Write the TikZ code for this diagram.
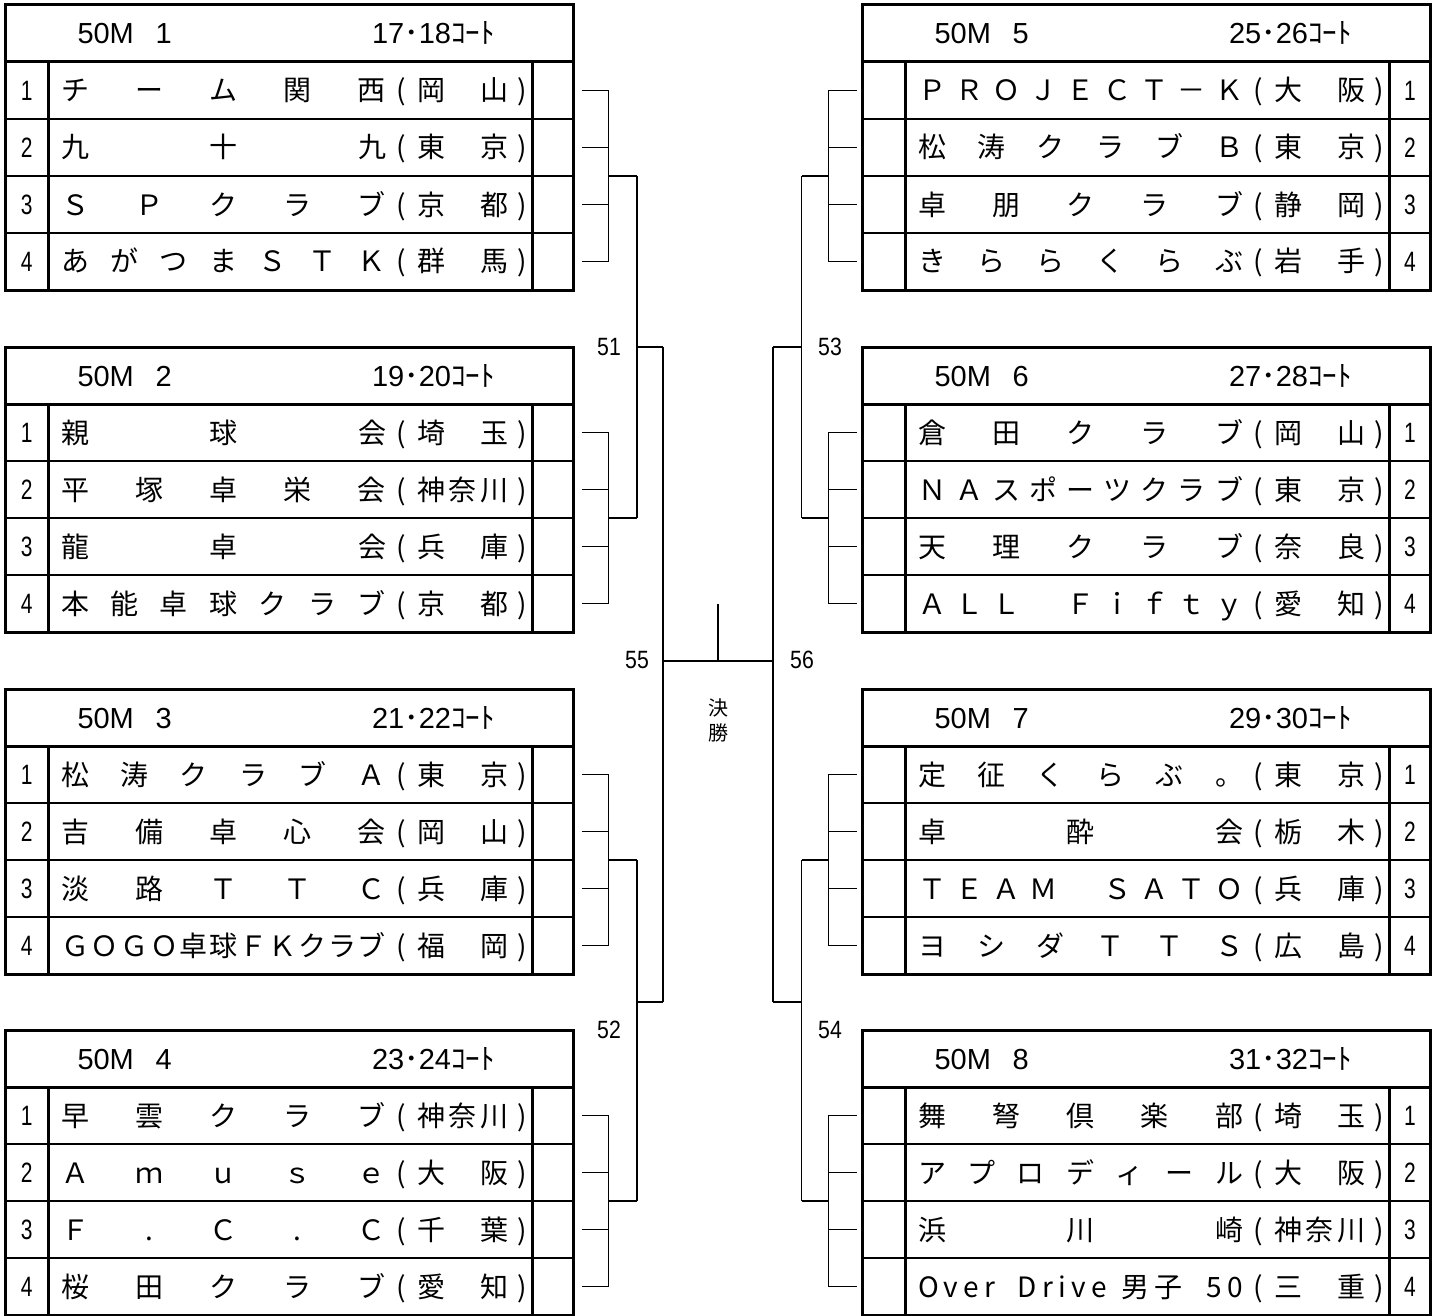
\documentclass[tikz,border=0pt]{standalone}
\usepackage{fontspec}
\usepackage{graphicx}
\setmainfont{Liberation Sans}
\newfontfamily\cjk{Noto Sans CJK JP}
\newfontfamily\lat{Liberation Sans}
\newcommand\namefont{\cjk\fontsize{28}{28}\selectfont}
\newcommand\numfont{\lat\fontsize{28}{28}\selectfont}
\newcommand\hdfont{\lat\fontsize{29}{29}\selectfont}
\newcommand\hdkfont{\cjk\fontsize{29}{29}\selectfont}
\newcommand\lblfont{\lat\fontsize{25}{25}\selectfont}
\newcommand\court[2]{{\hdfont #1}{\hdkfont ･}{\hdfont #2}{\hdkfont ｺｰﾄ}}

\makeatletter
\def\spreadtext#1{\spr@a#1\@nil}
\def\spr@a#1#2\@nil{#1\if\relax\detokenize{#2}\relax\else\hfill\spr@a#2\@nil\fi}
\makeatother

% table frame: #1 id, #2 x0, #3 y0, #4 block number, #5 court text
\newcommand\mtab[5]{%
 \begin{scope}[shift={(#2,#3)}]
  \draw[rowline] (0,114) -- (568,114) (0,171) -- (568,171) (0,228) -- (568,228);
  \draw[thickline] (0,57) -- (568,57);
  \draw[thickline] (42.5,57) -- (42.5,285) (527,57) -- (527,285);
  \draw[thickline] (0,0) rectangle (568,285);
  \node[txt,anchor=base west] (#1h) at (72,39) {\hdfont 50M};
  \node[txt,anchor=base west] (#1k) at (150,39) {\hdfont #4};
  \node[txt,anchor=base west] (#1c) at (366.5,39) {#5};
 \end{scope}}

% row: #1 id, #2 x0, #3 y0, #4 side L/R, #5 row, #6 name, #7 prefecture
\newcommand\mrow[7]{%
 \pgfmathsetmacro\yc{#3+28.5+57*#5}%
 \ifx L#4\def\numx{21.25}\def\bx{576}\else\def\numx{547.5}\def\bx{-5.5}\fi
 \node[txt,anchor=base] (#1n#5) at ({#2+\numx},{\yc+10}) {\numfont\scalebox{0.75}[1]{#5}};
 \node[txt,anchor=base west] (#1t#5) at ({#2+55.5},{\yc+10.5}) {\namefont\makebox[325pt]{\spreadtext{#6}}};
 \node[txt,anchor=base] (#1a#5) at ({#2+396},{\yc+10.5}) {\namefont(};
 \node[txt,anchor=base west] (#1p#5) at ({#2+411.5},{\yc+10.5}) {\namefont\makebox[91.5pt]{\spreadtext{#7}}};
 \node[txt,anchor=base] (#1b#5) at ({#2+516.5},{\yc+10.5}) {\namefont)};
 \coordinate (#1o#5) at ({#2+\bx},\yc);
}

% bracket: #1 id, #2 x0, #3 y0, #4 side
\newcommand\mbrk[4]{%
 \ifx L#4\def\jx{603}\def\ox{631.5}\else\def\jx{-34}\def\ox{-61}\fi
 \coordinate (#1j) at ({#2+\jx},{#3+171});
 \coordinate (#1out) at ({#2+\ox},{#3+171});
 \draw[br] (#1o1) -| (#1j) |- (#1o4);
 \draw[br] (#1o2) -| (#1j);
 \draw[br] (#1o3) -| (#1j);
 \draw[br] (#1j) -- (#1out);
}

\begin{document}
\begin{tikzpicture}[x=1pt,y=-1pt,
  thickline/.style={line width=3pt},
  rowline/.style={line width=1.3pt},
  br/.style={line width=1.2pt},
  txt/.style={inner sep=0pt,outer sep=0pt}]
\useasboundingbox (0,0) rectangle (1443,1316);
\fill[white] (0,0) rectangle (1443,1316);

% ---- left tables
\mtab{T1}{5.5}{5}{1}{\court{17}{18}}
\mrow{T1}{5.5}{5}{L}{1}{チーム関西}{岡山}
\mrow{T1}{5.5}{5}{L}{2}{九十九}{東京}
\mrow{T1}{5.5}{5}{L}{3}{ＳＰクラブ}{京都}
\mrow{T1}{5.5}{5}{L}{4}{あがつまＳＴＫ}{群馬}
\mbrk{T1}{5.5}{5}{L}

\mtab{T2}{5.5}{347}{2}{\court{19}{20}}
\mrow{T2}{5.5}{347}{L}{1}{親球会}{埼玉}
\mrow{T2}{5.5}{347}{L}{2}{平塚卓栄会}{神奈川}
\mrow{T2}{5.5}{347}{L}{3}{龍卓会}{兵庫}
\mrow{T2}{5.5}{347}{L}{4}{本能卓球クラブ}{京都}
\mbrk{T2}{5.5}{347}{L}

\mtab{T3}{5.5}{689}{3}{\court{21}{22}}
\mrow{T3}{5.5}{689}{L}{1}{松涛クラブＡ}{東京}
\mrow{T3}{5.5}{689}{L}{2}{吉備卓心会}{岡山}
\mrow{T3}{5.5}{689}{L}{3}{淡路ＴＴＣ}{兵庫}
\mrow{T3}{5.5}{689}{L}{4}{ＧＯＧＯ卓球ＦＫクラブ}{福岡}
\mbrk{T3}{5.5}{689}{L}

\mtab{T4}{5.5}{1030}{4}{\court{23}{24}}
\mrow{T4}{5.5}{1030}{L}{1}{早雲クラブ}{神奈川}
\mrow{T4}{5.5}{1030}{L}{2}{Ａｍｕｓｅ}{大阪}
\mrow{T4}{5.5}{1030}{L}{3}{Ｆ.Ｃ.Ｃ}{千葉}
\mrow{T4}{5.5}{1030}{L}{4}{桜田クラブ}{愛知}
\mbrk{T4}{5.5}{1030}{L}

% ---- right tables
\mtab{T5}{862.5}{5}{5}{\court{25}{26}}
\mrow{T5}{862.5}{5}{R}{1}{ＰＲＯＪＥＣＴ－Ｋ}{大阪}
\mrow{T5}{862.5}{5}{R}{2}{松涛クラブＢ}{東京}
\mrow{T5}{862.5}{5}{R}{3}{卓朋クラブ}{静岡}
\mrow{T5}{862.5}{5}{R}{4}{きららくらぶ}{岩手}
\mbrk{T5}{862.5}{5}{R}

\mtab{T6}{862.5}{347}{6}{\court{27}{28}}
\mrow{T6}{862.5}{347}{R}{1}{倉田クラブ}{岡山}
\mrow{T6}{862.5}{347}{R}{2}{ＮＡスポーツクラブ}{東京}
\mrow{T6}{862.5}{347}{R}{3}{天理クラブ}{奈良}
\mrow{T6}{862.5}{347}{R}{4}{ＡＬＬ　Ｆｉｆｔｙ}{愛知}
\mbrk{T6}{862.5}{347}{R}

\mtab{T7}{862.5}{689}{7}{\court{29}{30}}
\mrow{T7}{862.5}{689}{R}{1}{定征くらぶ。}{東京}
\mrow{T7}{862.5}{689}{R}{2}{卓酔会}{栃木}
\mrow{T7}{862.5}{689}{R}{3}{ＴＥＡＭ　ＳＡＴＯ}{兵庫}
\mrow{T7}{862.5}{689}{R}{4}{ヨシダＴＴＳ}{広島}
\mbrk{T7}{862.5}{689}{R}

\mtab{T8}{862.5}{1030}{8}{\court{31}{32}}
\mrow{T8}{862.5}{1030}{R}{1}{舞弩倶楽部}{埼玉}
\mrow{T8}{862.5}{1030}{R}{2}{アプロディール}{大阪}
\mrow{T8}{862.5}{1030}{R}{3}{浜川崎}{神奈川}
\mrow{T8}{862.5}{1030}{R}{4}{{O\hfill v\hfill e\hfill r\hfill\hspace{12pt}\hfill D\hfill r\hfill i\hfill v\hfill e\hfill\hspace{4pt}\hfill 男\hfill 子\hfill\hspace{14pt}\hfill 5\hfill 0}}{三重}
\mbrk{T8}{862.5}{1030}{R}

% ---- second round and final
\coordinate (J51) at (637,347);  \coordinate (J51e) at (663,347);
\coordinate (J52) at (637,1002); \coordinate (J52e) at (663,1002);
\coordinate (J53) at (801.5,347);  \coordinate (J53e) at (773,347);
\coordinate (J54) at (801.5,1002); \coordinate (J54e) at (773,1002);
\coordinate (F55) at (663,661); \coordinate (F56) at (773,661);
\coordinate (Ftop) at (718,604); \coordinate (Fmid) at (718,661);

\draw[br] (T1out) -- (T2out);
\draw[br] (J51) -- (J51e);
\draw[br] (T3out) -- (T4out);
\draw[br] (J52) -- (J52e);
\draw[br] (J51e) -- (J52e);
\draw[br] (T5out) -- (T6out);
\draw[br] (J53) -- (J53e);
\draw[br] (T7out) -- (T8out);
\draw[br] (J54) -- (J54e);
\draw[br] (J53e) -- (J54e);
\draw[br] (F55) -- (F56);
\draw[br] (Ftop) -- (Fmid);

\node[txt] (L51) at (609,347) {\lblfont\scalebox{0.85}[1]{51}};
\node[txt] (L52) at (609,1030) {\lblfont\scalebox{0.85}[1]{52}};
\node[txt] (L53) at (830,347) {\lblfont\scalebox{0.85}[1]{53}};
\node[txt] (L54) at (830,1030) {\lblfont\scalebox{0.85}[1]{54}};
\node[txt] (L55) at (637,660) {\lblfont\scalebox{0.85}[1]{55}};
\node[txt] (L56) at (802,660) {\lblfont\scalebox{0.85}[1]{56}};
\node[txt,align=center,font=\cjk\fontsize{20}{25}\selectfont] (KS) at (718,720) {決\\勝};
\end{tikzpicture}
\end{document}
